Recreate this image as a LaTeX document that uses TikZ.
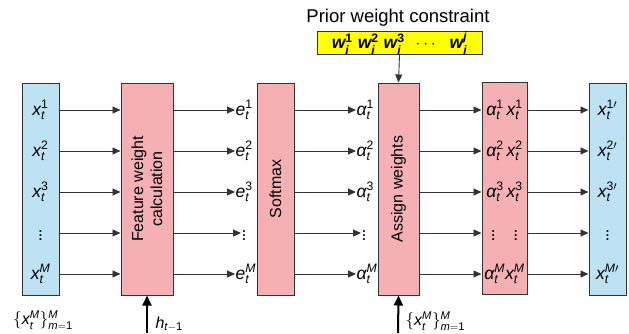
\documentclass[tikz,border=0pt]{standalone}
\usepackage{amsmath}
\usepackage{fontspec}
\setmainfont{Liberation Sans}
\usetikzlibrary{arrows.meta,positioning,calc}
\definecolor{boxblue}{RGB}{189,226,244}
\definecolor{boxpink}{RGB}{244,176,178}
\definecolor{boxyellow}{RGB}{255,255,0}
\newcommand{\itx}[1]{\text{\itshape #1}}

\begin{document}
\begin{tikzpicture}[
    x=1pt, y=-1pt,
    font=\fontsize{16}{19}\selectfont,
    inbox/.style={rectangle, draw=black!80, line width=1pt, fill=boxblue, minimum width=37pt, minimum height=212pt, inner sep=0pt},
    opbox/.style={rectangle, draw=black!80, line width=1pt, fill=boxpink, minimum height=212pt, inner sep=0pt},
    lbl/.style={inner sep=0.5pt, font=\fontsize{17.5}{20}\selectfont},
    flow/.style={-{Triangle[length=8pt,width=7pt]}, draw=black!80, line width=0.9pt},
    feed/.style={-{Triangle[length=10pt,width=9pt]}, draw=black, line width=2pt},
]
\useasboundingbox (0,0) rectangle (629,333);
% INPUT
\node[inbox] (Xin) at (40.5,189) {};
\node[lbl] (X1) at (40.5,110) {$\itx{x}_{\itx{t}}^{\text{1}}$};
\node[lbl] (X2) at (40.5,151) {$\itx{x}_{\itx{t}}^{\text{2}}$};
\node[lbl] (X3) at (40.5,192) {$\itx{x}_{\itx{t}}^{\text{3}}$};
\node[lbl] (X4) at (40.5,233) {$\vdots$};
\node[lbl] (X5) at (40.5,274) {$\itx{x}_{\itx{t}}^{\itx{M}}$};
\node (setL) at (43,320) {$\{\itx{x}_{\itx{t}}^{\itx{M}}\}_{\itx{m}=\text{1}}^{\itx{M}}$};
% FEATURE WEIGHT
\node[opbox, minimum width=52pt] (FW) at (147,189) {};
\node[rotate=90, align=center] at (FW.center) {Feature weight\\calculation};
\coordinate (hin) at (147,333);
\draw[feed] (hin) -- (FW.south);
\node[anchor=west] (hL) at (152,324) {$\itx{h}_{\itx{t}-\text{1}}$};
\node[lbl, anchor=west] (E1) at (235,110) {$\itx{e}_{\itx{t}}^{\text{1}}$};
\node[lbl, anchor=west] (E2) at (235,151) {$\itx{e}_{\itx{t}}^{\text{2}}$};
\node[lbl, anchor=west] (E3) at (235,192) {$\itx{e}_{\itx{t}}^{\text{3}}$};
\node[lbl, anchor=west] (E4) at (241,233) {$\vdots$};
\node[lbl, anchor=west] (E5) at (235,274) {$\itx{e}_{\itx{t}}^{\itx{M}}$};
% SOFTMAX
\node[opbox, minimum width=37pt] (SM) at (275.5,189) {};
\node[rotate=90] at (SM.center) {Softmax};
\node[lbl, anchor=west] (A1) at (356,110) {$\itx{α}_{\itx{t}}^{\text{1}}$};
\node[lbl, anchor=west] (A2) at (356,151) {$\itx{α}_{\itx{t}}^{\text{2}}$};
\node[lbl, anchor=west] (A3) at (356,192) {$\itx{α}_{\itx{t}}^{\text{3}}$};
\node[lbl, anchor=west] (A4) at (361,233) {$\vdots$};
\node[lbl, anchor=west] (A5) at (356,274) {$\itx{α}_{\itx{t}}^{\itx{M}}$};
% ASSIGN WEIGHTS
\node[opbox, minimum width=41pt] (AW) at (398.5,189) {};
\node[rotate=90] at (AW.center) {Assign weights};
\node[font=\fontsize{18.5}{22}\selectfont] (prior) at (398,18) {Prior weight constraint};
\node[rectangle, draw=black!80, line width=1pt, fill=boxyellow, minimum width=165pt, minimum height=22pt, inner sep=0pt, font=\fontsize{17.5}{20}\selectfont\bfseries] (PW) at (399.5,43)
    {$\itx{w}_{\itx{i}}^{\text{1}}$\hspace{5pt}$\itx{w}_{\itx{i}}^{\text{2}}$\hspace{5pt}$\itx{w}_{\itx{i}}^{\text{3}}$\hspace{11pt}$\cdots$\hspace{11pt}$\itx{w}_{\itx{i}}^{\itx{j}}$};
\draw[flow] (PW.south) -- (AW.north);
\coordinate (xin) at (398,333);
\draw[feed] (xin) -- (AW.south);
\node[anchor=west] (setR) at (402,321) {$\{\itx{x}_{\itx{t}}^{\itx{M}}\}_{\itx{m}=\text{1}}^{\itx{M}}$};
% PRODUCT
\node[opbox, minimum width=45pt] (PR) at (504.5,188) {};
\node[lbl] (P1) at (504.5,110) {$\itx{α}_{\itx{t}}^{\text{1}}$\,$\itx{x}_{\itx{t}}^{\text{1}}$};
\node[lbl] (P2) at (504.5,151) {$\itx{α}_{\itx{t}}^{\text{2}}$\,$\itx{x}_{\itx{t}}^{\text{2}}$};
\node[lbl] (P3) at (504.5,192) {$\itx{α}_{\itx{t}}^{\text{3}}$\,$\itx{x}_{\itx{t}}^{\text{3}}$};
\node[lbl] (P4) at (504.5,233) {$\vdots$\quad$\vdots$};
\node[lbl] (P5) at (504.5,274) {$\itx{α}_{\itx{t}}^{\itx{M}}$$\itx{x}_{\itx{t}}^{\itx{M}}$};
% OUTPUT
\node[inbox] (Xout) at (607.5,189) {};
\node[lbl] (Y1) at (607.5,110) {$\itx{x}_{\itx{t}}^{\text{1}\prime}$};
\node[lbl] (Y2) at (607.5,151) {$\itx{x}_{\itx{t}}^{\text{2}\prime}$};
\node[lbl] (Y3) at (607.5,192) {$\itx{x}_{\itx{t}}^{\text{3}\prime}$};
\node[lbl] (Y4) at (607.5,233) {$\vdots$};
\node[lbl] (Y5) at (607.5,274) {$\itx{x}_{\itx{t}}^{\itx{M}\prime}$};
% Flechas
\foreach \i in {1,...,5} {
    \draw[flow] (Xin.east |- X\i) -- (FW.west |- X\i);
    \draw[flow] (FW.east |- X\i) -- (E\i.west |- X\i);
    \draw[flow] (SM.east |- X\i) -- (A\i.west |- X\i);
    \draw[flow] (AW.east |- X\i) -- (PR.west |- X\i);
    \draw[flow] (PR.east |- X\i) -- (Xout.west |- X\i);
}
\end{tikzpicture}
\end{document}
